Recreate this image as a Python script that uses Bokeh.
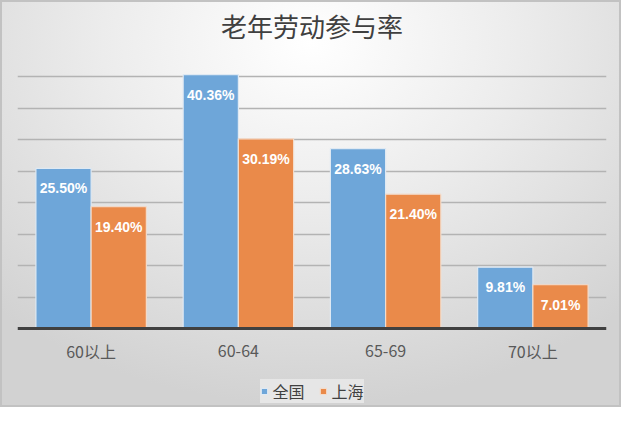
from bokeh.plotting import figure
from bokeh.models import ColumnDataSource, FactorRange, Range1d, Legend, LegendItem, FixedTicker
from bokeh.transform import dodge
from bokeh.core.properties import value
from bokeh.embed import file_html
from bokeh.resources import INLINE

categories = ["60以上", "60-64", "65-69", "70以上"]
national = [25.50, 40.36, 28.63, 9.81]
shanghai = [19.40, 30.19, 21.40, 7.01]
series_names = ["全国", "上海"]
title_text = "老年劳动参与率"
grid_ticks = [5, 10, 15, 20, 25, 30, 35, 40, 45]

src = ColumnDataSource(dict(
    cat=categories,
    nat=national,
    sh=shanghai,
    zero=[0] * len(categories),
    nat_lbl=["%.2f%%" % v for v in national],
    sh_lbl=["%.2f%%" % v for v in shanghai],
))

p = figure(width=621, height=407, x_range=FactorRange(*categories), y_range=Range1d(-12.0, 45),
           output_backend="svg", toolbar_location=None, title=title_text,
           min_border_left=15, min_border_right=17, min_border_top=23, min_border_bottom=5)

p.styles = {"background-image": "radial-gradient(ellipse 75% 90% at 50% 10%, #ffffff 0%, #ececec 45%, #d2d2d2 100%)",
            "border": "2px solid #c2c2c2", "box-sizing": "border-box"}
p.background_fill_alpha = 0
p.border_fill_alpha = 0
p.outline_line_color = None

p.title.align = "center"
p.title.text_font = "Noto Sans CJK SC"
p.title.text_font_size = "26px"
p.title.text_font_style = "normal"
p.title.text_color = "#404040"
p.title.offset = 0
p.title.standoff = 4

p.xaxis.visible = False
p.yaxis.visible = False
p.ygrid.ticker = FixedTicker(ticks=grid_ticks)
p.ygrid.grid_line_color = "#b3b3b3"
p.ygrid.grid_line_width = 1.5
p.xgrid.grid_line_color = None

blue = "#6ea6d9"
orange = "#ea8a4a"

r1 = p.vbar(x=dodge("cat", -0.1875, range=p.x_range), top="nat", width=0.375, source=src,
            fill_color=blue, line_color="#dfe9f3", line_width=1.2)
r2 = p.vbar(x=dodge("cat", 0.1875, range=p.x_range), top="sh", width=0.375, source=src,
            fill_color=orange, line_color="#f3dccb", line_width=1.2)

# baseline (category axis line)
p.hspan(y=[0], line_color="#404040", line_width=3)

# category tick labels
p.text(x="cat", y="zero", text="cat", source=src, text_color="#595959",
       text_font=value("Noto Sans CJK SC"), text_font_size="16px",
       text_align="center", text_baseline="middle", y_offset=22)

p.text(x=dodge("cat", -0.1875, range=p.x_range), y="nat", text="nat_lbl", source=src,
       text_color="white", text_font=value("Liberation Sans"), text_font_style="bold",
       text_font_size="14px", text_align="center", text_baseline="middle", y_offset=20)
p.text(x=dodge("cat", 0.1875, range=p.x_range), y="sh", text="sh_lbl", source=src,
       text_color="white", text_font=value("Liberation Sans"), text_font_style="bold",
       text_font_size="14px", text_align="center", text_baseline="middle", y_offset=20)

legend = Legend(items=[LegendItem(label=series_names[0], renderers=[r1]),
                       LegendItem(label=series_names[1], renderers=[r2])],
                orientation="horizontal", location="bottom_center")
legend.background_fill_color = "#e6e6e6"
legend.background_fill_alpha = 1
legend.border_line_color = None
legend.label_text_font = "Noto Sans CJK SC"
legend.label_text_font_size = "16px"
legend.label_text_color = "#404040"
legend.glyph_width = 8
legend.glyph_height = 8
legend.label_standoff = 5
legend.spacing = 14
legend.padding = 6
legend.margin = 1
p.add_layout(legend)

open("out.html", "w").write(file_html(p, INLINE))
